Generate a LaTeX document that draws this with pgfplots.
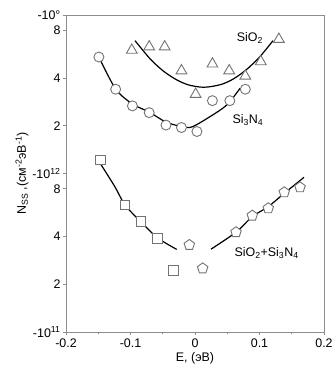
\documentclass[border=0pt]{standalone}
\usepackage{fontspec}
\setmainfont{Liberation Sans}
\usepackage{pgfplots}
\pgfplotsset{compat=1.18}
\definecolor{axgray}{RGB}{140,140,140}
\definecolor{mkgray}{RGB}{115,115,115}
\begin{document}
\begin{tikzpicture}
\useasboundingbox (-66bp,-39bp) rectangle (270bp,332bp);
\begin{axis}[
  at={(0,0)}, anchor=south west,
  scale only axis, width=258bp, height=317bp,
  ymode=log, xmin=-0.2, xmax=0.2, ymin=1e11, ymax=1e13,
  axis line style={axgray, line width=0.9bp},
  tick style={axgray, line width=0.8bp},
  xtick={-0.2,-0.1,0,0.1,0.2},
  xticklabels={-0.2,-0.1,0,0.1,0.2},
  minor xtick={-0.15,-0.05,0.05,0.15},
  ytick={1e11,2e11,4e11,8e11,1e12,2e12,4e12,8e12,1e13},
  yticklabels={-10\textsuperscript{11},2,4,8,-10\textsuperscript{12},2,4,8,-10°},
  minor ytick={},
  xtick pos=bottom, ytick pos=left,
  tick align=outside,
  major tick length=3bp, minor tick length=2.5bp,
  ticklabel style={font=\fontsize{12.5}{14}\selectfont},
  xticklabel style={yshift=0bp},
  yticklabel style={xshift=1bp},
  /pgf/number format/assume math mode=true,
  xlabel={E, (эВ)},
  ylabel={N\textsubscript{SS} ,(см\textsuperscript{-2}эВ\textsuperscript{-1})},
  label style={font=\fontsize{12.5}{14}\selectfont},
  xlabel style={yshift=2bp},
  ylabel style={yshift=-3bp},
  clip=false,
]
% SiO2 fit
\addplot[black, line width=1.2bp, smooth] coordinates {
(-0.093,6.89e12) (-0.070,5.31e12) (-0.050,4.46e12) (-0.030,3.93e12) (-0.010,3.62e12)
(0.014,3.50e12) (0.040,3.64e12) (0.060,3.96e12) (0.080,4.53e12) (0.100,5.42e12) (0.121,6.89e12)};
% SiO2 points
\addplot[only marks, mark=triangle*, mark size=6.2bp, mark options={draw=mkgray, fill=white, line width=0.9bp}] coordinates {
(-0.098,6.0e12) (-0.071,6.3e12) (-0.047,6.3e12) (-0.021,4.45e12) (0.001,3.16e12)
(0.027,4.91e12) (0.053,4.45e12) (0.078,4.12e12) (0.102,5.08e12) (0.130,7.03e12)};
% Si3N4 fit
\addplot[black, line width=1.2bp, smooth] coordinates {
(-0.149,5.43e12) (-0.123,3.41e12) (-0.097,2.745e12) (-0.071,2.44e12) (-0.045,2.11e12)
(-0.021,1.98e12) (-0.005,1.965e12) (0.023,2.28e12) (0.049,2.70e12) (0.070,3.45e12)};
% Si3N4 points
\addplot[only marks, mark=*, mark size=5bp, mark options={draw=mkgray, fill=white, line width=0.9bp}] coordinates {
(-0.149,5.43e12) (-0.123,3.40e12) (-0.097,2.67e12) (-0.071,2.42e12) (-0.045,2.02e12)
(-0.021,1.95e12) (0.003,1.84e12) (0.027,2.88e12) (0.054,2.88e12) (0.078,3.40e12)};
% SiO2+Si3N4 left fit
\addplot[black, line width=1.2bp, smooth] coordinates {
(-0.1473,1.164e12) (-0.124,8.22e11) (-0.1085,6.33e11) (-0.0837,4.94e11) (-0.0578,3.92e11) (-0.0284,3.32e11)};
% right fit
\addplot[black, line width=1.2bp, smooth] coordinates {
(0.0248,3.33e11) (0.0636,4.26e11) (0.0888,5.34e11) (0.1136,6.18e11) (0.1384,7.50e11) (0.169,9.46e11)};
% squares
\addplot[only marks, mark=square*, mark size=4.8bp, mark options={draw=mkgray, fill=white, line width=0.9bp}] coordinates {
(-0.147,1.216e12) (-0.1085,6.33e11) (-0.0837,4.97e11) (-0.0578,3.90e11) (-0.0336,2.44e11)};
% pentagons
\addplot[only marks, mark=pentagon*, mark size=5.5bp, mark options={draw=mkgray, fill=white, line width=0.9bp}] coordinates {
(-0.0088,3.54e11) (0.0119,2.52e11) (0.0636,4.26e11) (0.0888,5.42e11) (0.1136,6.03e11) (0.1384,7.61e11) (0.1628,8.18e11)};
\node[font=\fontsize{12.5}{14}\selectfont] at (axis cs:0.085,7.16e12) {SiO\textsubscript{2}};
\node[font=\fontsize{12.5}{14}\selectfont] at (axis cs:0.082,2.18e12) {Si\textsubscript{3}N\textsubscript{4}};
\node[font=\fontsize{12.5}{14}\selectfont] at (axis cs:0.111,3.15e11) {SiO\textsubscript{2}+Si\textsubscript{3}N\textsubscript{4}};
\end{axis}
\end{tikzpicture}
\end{document}
